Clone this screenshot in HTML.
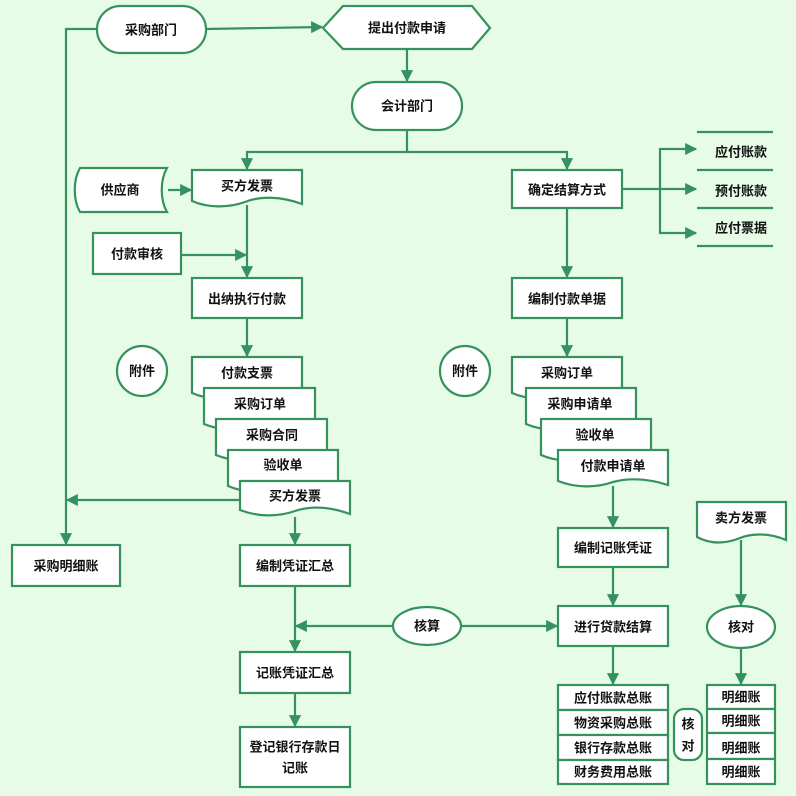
<!DOCTYPE html>
<html><head><meta charset="utf-8"><style>
html,body{margin:0;padding:0;background:#e6fce6;}
svg{display:block;}
text{font-family:"Liberation Sans","Noto Sans CJK SC",sans-serif;font-size:13px;font-weight:bold;fill:#111;text-anchor:middle;dominant-baseline:central;}
.s{fill:#fff;stroke:#35925f;stroke-width:2.2;}
.l{fill:none;stroke:#35925f;stroke-width:2.2;}
</style></head><body>
<svg width="796" height="796" viewBox="0 0 796 796">
<defs><marker id="a" viewBox="0 0 10 10" refX="9" refY="5" markerWidth="5.5" markerHeight="5.5" orient="auto" markerUnits="strokeWidth"><path d="M0,0 L10,5 L0,10 z" fill="#35925f"/></marker></defs>

<!-- connectors -->
<path class="l" d="M206,29 L322,27" marker-end="url(#a)"/>
<path class="l" d="M97,29 H66 V544" marker-end="url(#a)"/>
<path class="l" d="M407,49 V81" marker-end="url(#a)"/>
<path class="l" d="M407,130 V152 H247 V169" marker-end="url(#a)"/>
<path class="l" d="M407,152 H567 V169" marker-end="url(#a)"/>
<path class="l" d="M168,190 H191" marker-end="url(#a)"/>
<path class="l" d="M181,255 H246" marker-end="url(#a)"/>
<path class="l" d="M247,205 V277" marker-end="url(#a)"/>
<path class="l" d="M247,318 V356" marker-end="url(#a)"/>
<path class="l" d="M240,500 H67" marker-end="url(#a)"/>
<path class="l" d="M295,517 V544" marker-end="url(#a)"/>
<path class="l" d="M295,586 V651" marker-end="url(#a)"/>
<path class="l" d="M392,626 H296" marker-end="url(#a)"/>
<path class="l" d="M462,626 H557" marker-end="url(#a)"/>
<path class="l" d="M295,693 V726" marker-end="url(#a)"/>
<path class="l" d="M622,189 H660" />
<path class="l" d="M660,189 H696" marker-end="url(#a)"/>
<path class="l" d="M660,189 V149 H696" marker-end="url(#a)"/>
<path class="l" d="M660,189 V233 H696" marker-end="url(#a)"/>
<path class="l" d="M567,208 V277" marker-end="url(#a)"/>
<path class="l" d="M567,318 V356" marker-end="url(#a)"/>
<path class="l" d="M613,486 V527" marker-end="url(#a)"/>
<path class="l" d="M613,567 V605" marker-end="url(#a)"/>
<path class="l" d="M613,646 V684" marker-end="url(#a)"/>
<path class="l" d="M741,540 V605" marker-end="url(#a)"/>
<path class="l" d="M741,648 V684" marker-end="url(#a)"/>
<path class="l" d="M697,132 H773 M697,170 H773 M697,208 H773 M697,246 H773"/>

<!-- top -->
<rect class="s" x="97" y="6" width="109" height="47" rx="23.5"/><text x="151" y="30">采购部门</text>
<path class="s" d="M343,6 H472 L490,28 L472,49 H343 L323,28 Z"/><text x="407" y="28">提出付款申请</text>
<rect class="s" x="352" y="82" width="110" height="48" rx="24"/><text x="407" y="106">会计部门</text>

<path class="s" d="M192,170 H302 V204 C280,196 260,196 245,202 C228,208 208,208 192,201 Z"/><text x="247" y="186">买方发票</text>
<path class="s" d="M80,168 H167 C160,180 160,200 167,212 H80 C73,200 73,180 80,168 Z"/><text x="120" y="190">供应商</text>
<rect class="s" x="93" y="233" width="88" height="41"/><text x="137" y="254">付款审核</text>
<rect class="s" x="192" y="278" width="110" height="40"/><text x="247" y="299">出纳执行付款</text>
<circle class="s" cx="142" cy="371" r="25"/><text x="142" y="371">附件</text>
<circle class="s" cx="465" cy="371" r="25"/><text x="465" y="371">附件</text>

<!-- left stack -->
<path class="s" d="M192,357 H302 V395 C280,390 260,390 245,395 C228,400 208,400 192,393 Z"/><text x="247" y="373">付款支票</text>
<path class="s" d="M204,388 H315 V426 C293,421 273,421 258,426 C241,431 221,431 204,424 Z"/><text x="260" y="404">采购订单</text>
<path class="s" d="M216,419 H327 V457 C305,452 285,452 270,457 C253,462 233,462 216,455 Z"/><text x="272" y="435">采购合同</text>
<path class="s" d="M228,450 H338 V488 C316,483 296,483 281,488 C264,493 244,493 228,486 Z"/><text x="283" y="465">验收单</text>
<path class="s" d="M240,481 H350 V514 C328,506 310,506 295,511 C278,517 258,517 240,510 Z"/><text x="295" y="496">买方发票</text>

<rect class="s" x="12" y="545" width="108" height="41"/><text x="66" y="566">采购明细账</text>
<rect class="s" x="240" y="545" width="110" height="41"/><text x="295" y="566">编制凭证汇总</text>
<ellipse class="s" cx="427" cy="626" rx="34" ry="19"/><text x="427" y="626">核算</text>
<rect class="s" x="240" y="652" width="110" height="41"/><text x="295" y="673">记账凭证汇总</text>
<rect class="s" x="240" y="727" width="110" height="60"/><text x="295" y="747">登记银行存款日</text><text x="295" y="768">记账</text>

<!-- right -->
<rect class="s" x="512" y="170" width="110" height="38"/><text x="567" y="190">确定结算方式</text>
<text x="741" y="152">应付账款</text><text x="741" y="191">预付账款</text><text x="741" y="228">应付票据</text>
<rect class="s" x="512" y="278" width="110" height="40"/><text x="567" y="299">编制付款单据</text>

<path class="s" d="M512,357 H622 V395 C600,390 580,390 565,395 C548,400 528,400 512,393 Z"/><text x="567" y="373">采购订单</text>
<path class="s" d="M526,388 H636 V426 C614,421 594,421 579,426 C562,431 542,431 526,424 Z"/><text x="580" y="404">采购申请单</text>
<path class="s" d="M541,419 H651 V457 C629,452 609,452 594,457 C577,462 557,462 541,455 Z"/><text x="595" y="435">验收单</text>
<path class="s" d="M558,450 H668 V485 C646,478 628,478 613,482 C596,488 576,488 558,481 Z"/><text x="613" y="466">付款申请单</text>

<rect class="s" x="558" y="528" width="110" height="39"/><text x="613" y="548">编制记账凭证</text>
<rect class="s" x="558" y="606" width="110" height="40"/><text x="613" y="627">进行贷款结算</text>
<rect class="s" x="558" y="685" width="110" height="25"/><text x="613" y="698">应付账款总账</text>
<rect class="s" x="558" y="710" width="110" height="25"/><text x="613" y="723">物资采购总账</text>
<rect class="s" x="558" y="735" width="110" height="25"/><text x="613" y="748">银行存款总账</text>
<rect class="s" x="558" y="760" width="110" height="24"/><text x="613" y="772">财务费用总账</text>
<rect class="s" x="674" y="709" width="28" height="51" rx="10"/><text x="688" y="724">核</text><text x="688" y="746">对</text>

<path class="s" d="M697,502 H786 V540 C770,533 752,533 740,538 C725,544 710,544 697,537 Z"/><text x="741" y="518">卖方发票</text>
<ellipse class="s" cx="741" cy="627" rx="34" ry="21"/><text x="741" y="627">核对</text>
<rect class="s" x="707" y="685" width="68" height="24"/><text x="741" y="697">明细账</text>
<rect class="s" x="707" y="709" width="68" height="24"/><text x="741" y="721">明细账</text>
<rect class="s" x="707" y="733" width="68" height="26"/><text x="741" y="748">明细账</text>
<rect class="s" x="707" y="759" width="68" height="25"/><text x="741" y="772">明细账</text>
</svg>
</body></html>
